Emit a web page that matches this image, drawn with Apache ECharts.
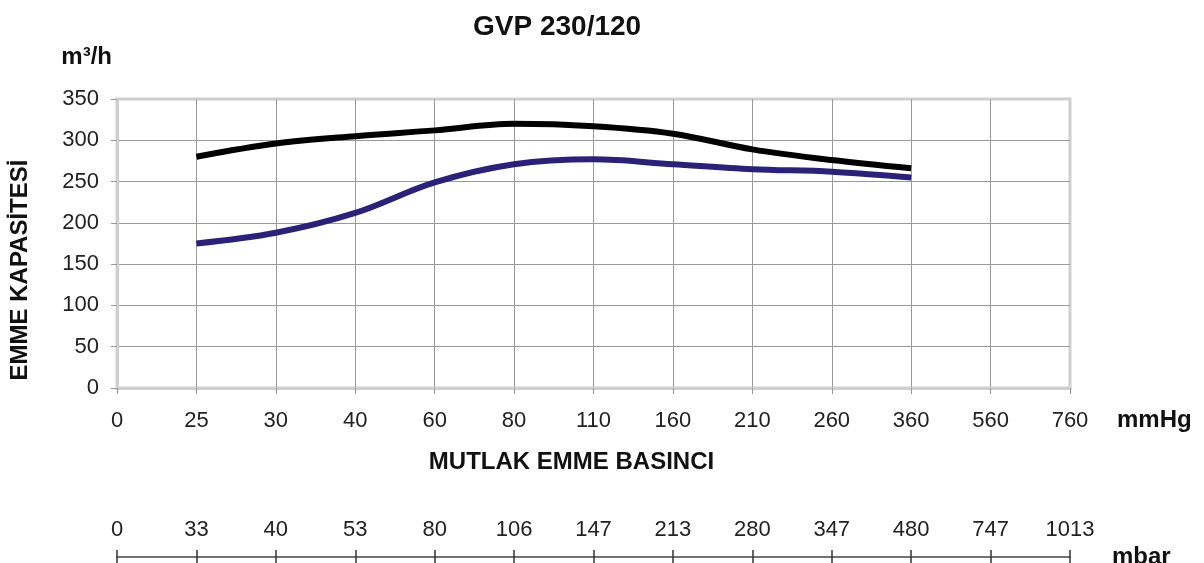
<!DOCTYPE html>
<html>
<head>
<meta charset="utf-8">
<title>GVP 230/120</title>
<script src="https://cdn.jsdelivr.net/npm/echarts@6/dist/echarts.min.js"></script>
<style>
  html, body { margin: 0; padding: 0; background: #fff; }
  #chart { width: 1204px; height: 563px; }
</style>
</head>
<body>
<div id="chart"></div>
<script>
  // basinc eksenleri (esit aralikli)
  const mmHgTicks = ['0', '25', '30', '40', '60', '80', '110', '160', '210', '260', '360', '560', '760']
  const mbarTicks = ['0', '33', '40', '53', '80', '106', '147', '213', '280', '347', '480', '747', '1013']
  // okunan egri noktalari
  const pointTicks = ['25', '30', '40', '60', '80', '110', '160', '210', '260', '360']
  const blackValues = [280, 296, 305, 312, 320, 317, 308, 289, 276, 266]
  const blueValues = [175, 188, 212, 249, 271, 277, 271, 265, 262, 255]

  const font = '"Liberation Sans", Arial, sans-serif'

  const chart = echarts.init(document.getElementById('chart'))
  chart.setOption({
    animation: false,
    title: {
      text: 'GVP 230/120',
      left: 468,
      top: 8,
      textStyle: { fontFamily: font, fontSize: 28, fontWeight: 'bold', color: '#111' },
    },
    grid: {
      left: 117,
      right: 134,
      top: 99,
      bottom: 175,
      containLabel: false,
      outerBoundsMode: 'none',
      show: true,
      borderColor: '#cfcfcf',
      borderWidth: 3,
    },
    graphic: [
      {
        type: 'text',
        left: 1117,
        top: 408,
        style: { text: 'mmHg', font: 'bold 24px ' + font, fill: '#111' },
      },
      {
        type: 'text',
        x: 20,
        y: 270,
        rotation: Math.PI / 2,
        style: {
          text: 'EMME KAPASİTESİ',
          font: 'bold 24px ' + font,
          fill: '#111',
          align: 'center',
          verticalAlign: 'middle',
        },
      },
    ],
    xAxis: [
      {
        type: 'category',
        data: mmHgTicks,
        boundaryGap: false,
        name: 'MUTLAK EMME BASINCI',
        nameLocation: 'middle',
        nameGap: 62,
        nameTextStyle: { fontFamily: font, fontSize: 24, fontWeight: 'bold', color: '#111', padding: [0, 44, 0, 0] },
        axisLine: { lineStyle: { color: '#cfcfcf', width: 3 } },
        axisTick: { length: 6, lineStyle: { color: '#999' } },
        axisLabel: { margin: 22, fontFamily: font, fontSize: 22, color: '#222' },
        splitLine: { show: true, showMinLine: false, showMaxLine: false, lineStyle: { color: '#9a9a9a', width: 1 } },
      },
      {
        type: 'category',
        data: mbarTicks,
        boundaryGap: false,
        position: 'bottom',
        offset: 169,
        name: 'mbar',
        nameLocation: 'end',
        nameGap: 42,
        nameTextStyle: { fontFamily: font, fontSize: 24, fontWeight: 'bold', color: '#111', padding: [0, 0, 10, 0] },
        axisLine: { lineStyle: { color: '#444', width: 1.5 } },
        axisTick: { inside: true, length: 7, lineStyle: { color: '#333', width: 1.5 } },
        axisLabel: { inside: true, margin: 16, fontFamily: font, fontSize: 22, color: '#222' },
        splitLine: { show: false },
      },
      {
        type: 'category',
        data: mbarTicks,
        boundaryGap: false,
        position: 'bottom',
        offset: 169,
        axisLine: { show: false },
        axisTick: { length: 7, lineStyle: { color: '#333', width: 1.5 } },
        axisLabel: { show: false },
        splitLine: { show: false },
      },
    ],
    yAxis: {
      type: 'value',
      min: 0,
      max: 350,
      interval: 50,
      name: 'm³/h',
      nameLocation: 'end',
      nameGap: 30,
      nameTextStyle: { fontFamily: font, fontSize: 24, fontWeight: 'bold', color: '#111', align: 'right', padding: [0, 5, 0, 0] },
      axisLine: { show: true, lineStyle: { color: '#cfcfcf', width: 3 } },
      axisTick: { show: true, length: 6, lineStyle: { color: '#999' } },
      axisLabel: { margin: 18, fontFamily: font, fontSize: 22, color: '#222' },
      splitLine: { show: true, showMinLine: false, showMaxLine: false, lineStyle: { color: '#9a9a9a', width: 1 } },
    },
    series: [
      {
        name: 'siyah',
        type: 'line',
        xAxisIndex: 0,
        smooth: 0.35,
        symbol: 'none',
        lineStyle: { color: '#000', width: 6 },
        data: pointTicks.map((t, i) => [t, blackValues[i]]),
      },
      {
        name: 'mavi',
        type: 'line',
        xAxisIndex: 0,
        smooth: 0.35,
        symbol: 'none',
        lineStyle: { color: '#2b2278', width: 6 },
        data: pointTicks.map((t, i) => [t, blueValues[i]]),
      },
    ],
  })
</script>
</body>
</html>
